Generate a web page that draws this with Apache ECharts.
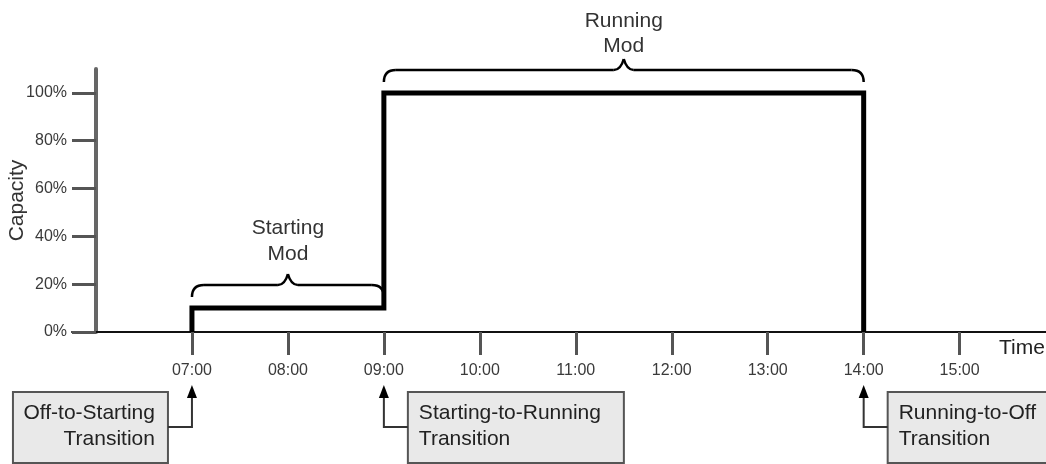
<!DOCTYPE html>
<html>
<head>
<meta charset="utf-8">
<script src="https://cdn.jsdelivr.net/npm/echarts@6/dist/echarts.min.js"></script>
<style>
html,body{margin:0;padding:0;background:#fff;}
#c{width:1046px;height:464px;}
</style>
</head>
<body>
<div id="c"></div>
<script>
// ---- data ----
const stepTimes = [7, 7, 9, 9, 14, 14];          // hour of day
const stepCapacity = [0, 10, 10, 100, 100, 0];   // percent
const xTickHours = [7, 8, 9, 10, 11, 12, 13, 14, 15];
const yTickValues = [0, 20, 40, 60, 80, 100];
const modes = [
  { name: ['Starting', 'Mod'], from: 7, to: 9, level: 'low' },
  { name: ['Running', 'Mod'], from: 9, to: 14, level: 'high' }
];
const transitions = [
  { hour: 7, lines: ['Off-to-Starting', 'Transition'], side: 'left' },
  { hour: 9, lines: ['Starting-to-Running', 'Transition'], side: 'right' },
  { hour: 14, lines: ['Running-to-Off', 'Transition'], side: 'right' }
];

const FONT = '"Liberation Sans", Arial, sans-serif';
const seriesData = stepTimes.map((t, i) => [t, stepCapacity[i]]);
function hh(v) { return (v < 10 ? '0' : '') + v + ':00'; }

const chart = echarts.init(document.getElementById('c'), null, { renderer: 'canvas' });
chart.setOption({
  animation: false,
  backgroundColor: '#ffffff',
  grid: { left: 72, right: 0, top: 69, bottom: 132, containLabel: false, outerBoundsMode: 'none' },
  xAxis: {
    type: 'value', min: 5.75, max: 15.9,
    axisLine: { onZero: true, lineStyle: { color: '#111', width: 2 } },
    axisTick: { show: true, length: 23, customValues: xTickHours, lineStyle: { color: '#555', width: 3 } },
    axisLabel: { customValues: xTickHours, formatter: hh, margin: 31, color: '#3a3a3a', fontSize: 16, fontFamily: FONT },
    splitLine: { show: false }
  },
  yAxis: {
    type: 'value', min: 0, max: 110, offset: -24,
    name: 'Capacity', nameLocation: 'middle', nameRotate: 90, nameGap: 68, nameMoveOverlap: false,
    nameTextStyle: { color: '#333', fontSize: 21, fontFamily: FONT },
    axisLine: { show: true, onZero: false, lineStyle: { color: '#666', width: 4 } },
    axisTick: { show: true, length: 24, customValues: yTickValues, lineStyle: { color: '#555', width: 3 } },
    axisLabel: { customValues: yTickValues, formatter: v => v + '%', margin: 29, color: '#3a3a3a', fontSize: 16, fontFamily: FONT },
    splitLine: { show: false }
  },
  series: [{
    type: 'line', data: seriesData, symbol: 'none', clip: false,
    lineStyle: { color: '#000', width: 5, join: 'miter' }, z: 5
  }]
});

function px(t, v) { return chart.convertToPixel({ gridIndex: 0 }, [t, v]); }

const braceLayout = {
  low: { y: 285, textOffset: [-57, -31] },
  high: { y: 70, textOffset: [-49, -24] }
};
const graphics = [];
const braceStyle = { stroke: '#000', lineWidth: 2.5, fill: null };
// braces with labels
modes.forEach(m => {
  const x1 = px(m.from, 0)[0], x2 = px(m.to, 0)[0];
  const lay = braceLayout[m.level];
  const yb = lay.y;
  const xm = (x1 + x2) / 2;
  graphics.push({ type: 'bezierCurve', shape: { x1: x1, y1: yb + 12, x2: x1 + 12, y2: yb, cpx1: x1, cpy1: yb }, style: braceStyle, z: 10 });
  graphics.push({ type: 'line', shape: { x1: x1 + 12, y1: yb, x2: xm - 10, y2: yb }, style: braceStyle, z: 10 });
  graphics.push({ type: 'bezierCurve', shape: { x1: xm - 10, y1: yb, x2: xm, y2: yb - 11, cpx1: xm - 3, cpy1: yb }, style: braceStyle, z: 10 });
  graphics.push({ type: 'bezierCurve', shape: { x1: xm, y1: yb - 11, x2: xm + 10, y2: yb, cpx1: xm + 3, cpy1: yb }, style: braceStyle, z: 10 });
  graphics.push({ type: 'line', shape: { x1: xm + 10, y1: yb, x2: x2 - 12, y2: yb }, style: braceStyle, z: 10 });
  graphics.push({ type: 'bezierCurve', shape: { x1: x2 - 12, y1: yb, x2: x2, y2: yb + 12, cpx1: x2, cpy1: yb }, style: braceStyle, z: 10 });
  m.name.forEach((s, i) => {
    graphics.push({ type: 'text', x: xm, y: yb + lay.textOffset[i], style: { text: s, fill: '#333', font: '21px ' + FONT, textAlign: 'center', textVerticalAlign: 'middle' }, z: 10 });
  });
});
// transition boxes and arrows
transitions.forEach(tr => {
  const x = px(tr.hour, 0)[0];
  const boxTop = 392, boxH = 71, yc = 427;
  let bx, bw;
  if (tr.side === 'left') { bw = 155; bx = x - 24 - bw; }
  else { bw = tr.hour === 9 ? 216 : 180; bx = x + 24; }
  graphics.push({ type: 'rect', shape: { x: bx, y: boxTop, width: bw, height: boxH }, style: { fill: '#e9e9e9', stroke: '#555', lineWidth: 2 }, z: 10 });
  const tx = tr.side === 'left' ? bx + bw - 13 : bx + 11;
  tr.lines.forEach((s, i) => {
    graphics.push({ type: 'text', x: tx, y: 413 + i * 26, style: { text: s, fill: '#222', font: '21px ' + FONT, textAlign: tr.side === 'left' ? 'right' : 'left', textVerticalAlign: 'middle' }, z: 11 });
  });
  const ex = tr.side === 'left' ? bx + bw : bx;
  graphics.push({ type: 'polyline', shape: { points: [[ex, yc], [x, yc], [x, 396]] }, style: { stroke: '#333', lineWidth: 2, fill: null }, z: 10 });
  graphics.push({ type: 'polygon', shape: { points: [[x, 385], [x - 5, 398], [x + 5, 398]] }, style: { fill: '#000' }, z: 10 });
});
// axis title "Time"
graphics.push({ type: 'text', x: 999, y: 348, style: { text: 'Time', fill: '#222', font: '21px ' + FONT, textAlign: 'left', textVerticalAlign: 'middle' }, z: 10 });

chart.setOption({ graphic: graphics });
</script>
</body>
</html>
